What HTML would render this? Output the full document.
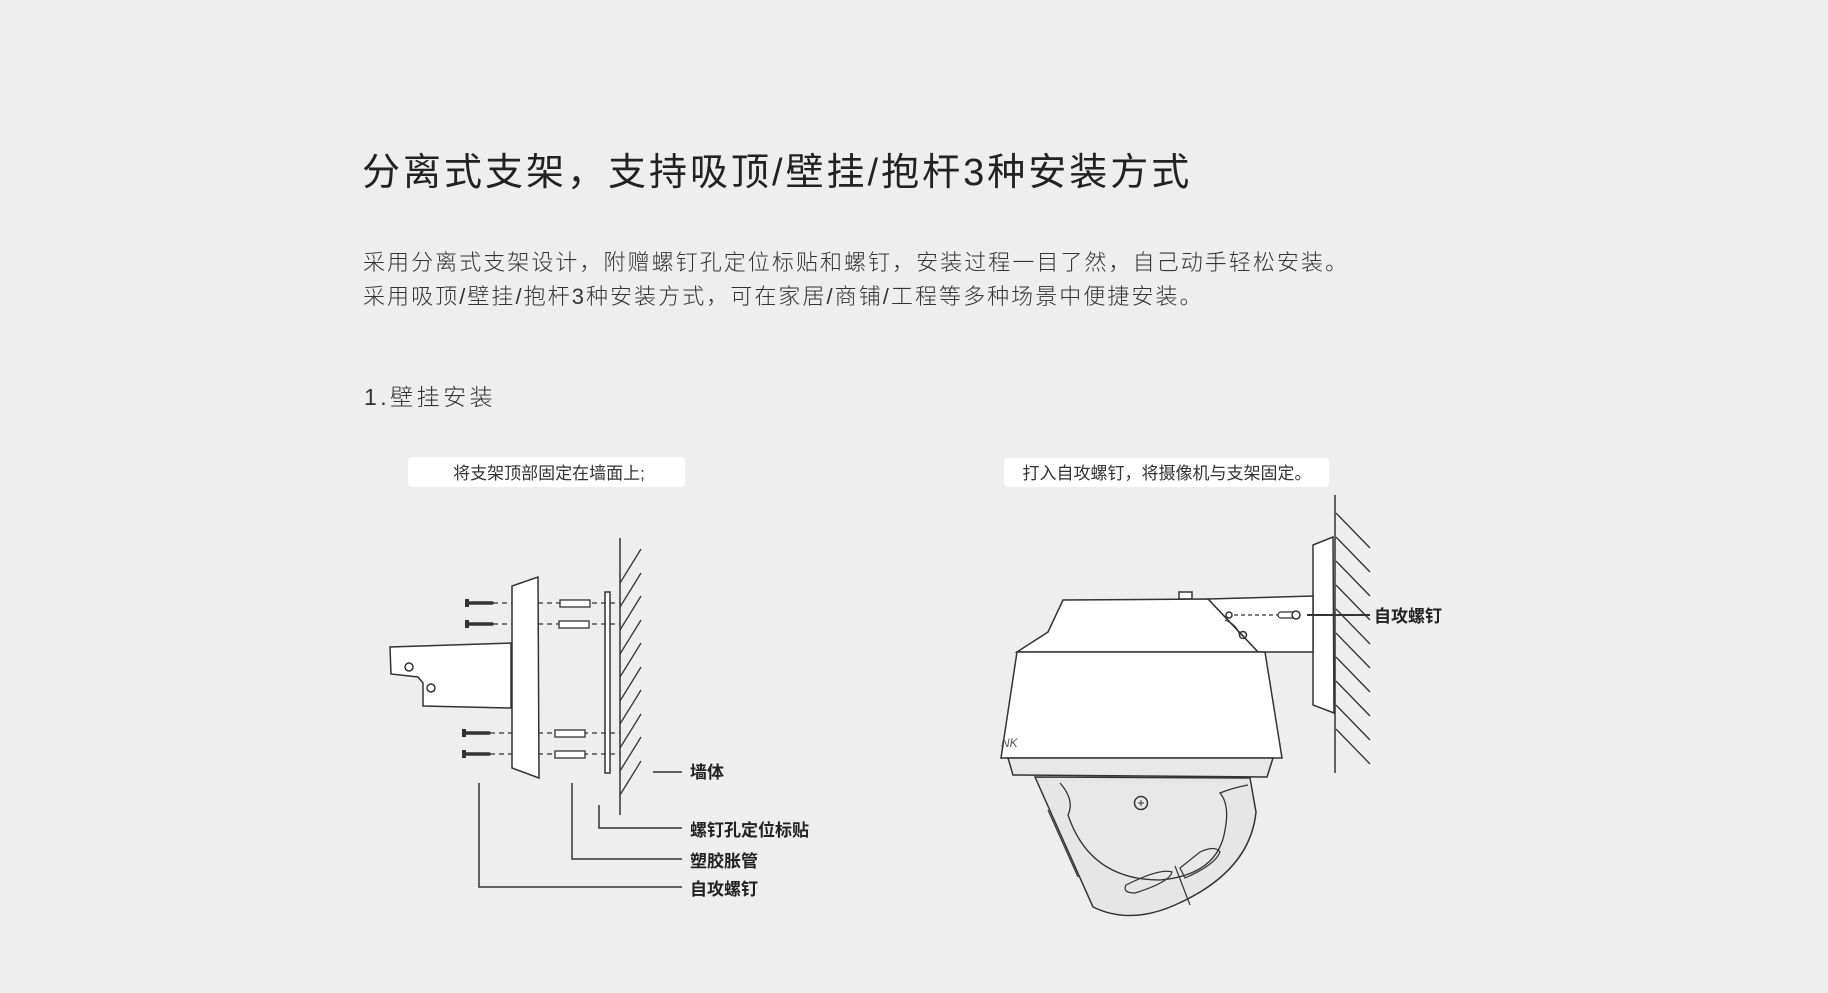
<!DOCTYPE html>
<html><head><meta charset="utf-8"><style>
html,body{margin:0;padding:0;}
body{width:1828px;height:993px;background:#eeeeee;position:relative;overflow:hidden;font-family:"Liberation Sans","Noto Sans CJK SC",sans-serif;}
.t{position:absolute;white-space:nowrap;line-height:1;}
</style></head><body>
<div class="t" style="left:362px;top:154px;font-size:38px;color:#222;letter-spacing:3px;">分离式支架，支持吸顶/壁挂/抱杆3种安装方式</div>
<div class="t" style="left:363px;top:252px;font-size:22px;color:#333;letter-spacing:2.05px;font-weight:300;">采用分离式支架设计，附赠螺钉孔定位标贴和螺钉，安装过程一目了然，自己动手轻松安装。</div>
<div class="t" style="left:363px;top:286px;font-size:22px;color:#333;letter-spacing:2.05px;font-weight:300;">采用吸顶/壁挂/抱杆3种安装方式，可在家居/商铺/工程等多种场景中便捷安装。</div>
<div class="t" style="left:364px;top:386px;font-size:23px;color:#333;letter-spacing:3.5px;font-weight:300;">1.壁挂安装</div>

<svg width="1828" height="993" viewBox="0 0 1828 993" style="position:absolute;left:0;top:0" font-family="Liberation Sans, Noto Sans CJK SC, sans-serif">
<rect x="408" y="457" width="277" height="30" rx="4" fill="#fff"/>
<text x="549" y="479" font-size="17" fill="#333" text-anchor="middle">将支架顶部固定在墙面上;</text>
<rect x="1004" y="458" width="325" height="29" rx="4" fill="#fff"/>
<text x="1167" y="479" font-size="17" fill="#333" text-anchor="middle">打入自攻螺钉，将摄像机与支架固定。</text>

<!-- LEFT DIAGRAM -->
<g stroke="#333" stroke-width="1.5" fill="none">
<line x1="620" y1="538" x2="620" y2="815"/>
<g stroke-width="1.3">
<line x1="620" y1="583" x2="641" y2="549"/><line x1="620" y1="607" x2="641" y2="573"/>
<line x1="620" y1="630" x2="641" y2="596"/><line x1="620" y1="654" x2="641" y2="620"/>
<line x1="620" y1="677" x2="641" y2="643"/><line x1="620" y1="701" x2="641" y2="667"/>
<line x1="620" y1="724" x2="641" y2="690"/><line x1="620" y1="748" x2="641" y2="714"/>
<line x1="620" y1="771" x2="641" y2="737"/><line x1="620" y1="795" x2="641" y2="761"/>
</g>
<rect x="605" y="592" width="5" height="181" fill="#fff"/>
<path d="M390,647 L511,643 L511,708 L423,706 L423,683 L418,677 L391,674 Z" fill="#fff"/>
<circle cx="409" cy="667" r="4"/><circle cx="431" cy="688" r="4"/>
<path d="M512,586 L538,577 L539,778 L512,768 Z" fill="#fff"/>
<g stroke-dasharray="5,4" stroke-width="1.2">
<line x1="493" y1="603" x2="512" y2="603"/><line x1="538" y1="603" x2="620" y2="603"/>
<line x1="493" y1="624" x2="512" y2="624"/><line x1="538" y1="624" x2="620" y2="624"/>
<line x1="490" y1="733" x2="512" y2="733"/><line x1="538" y1="733" x2="620" y2="733"/>
<line x1="490" y1="754" x2="512" y2="754"/><line x1="538" y1="754" x2="620" y2="754"/>
</g>
<g fill="#fff" stroke-width="1.3">
<rect x="560" y="600" width="30" height="7"/><rect x="559" y="621" width="30" height="7"/>
<rect x="555" y="730" width="30" height="7"/><rect x="555" y="751" width="30" height="7"/>
</g>
<g stroke-width="3.5" stroke-linecap="round">
<line x1="468" y1="603" x2="492" y2="603"/><line x1="468" y1="624" x2="492" y2="624"/>
<line x1="465" y1="733" x2="489" y2="733"/><line x1="465" y1="754" x2="489" y2="754"/>
</g>
<g fill="#333" stroke="none">
<rect x="465" y="599" width="4" height="8"/><rect x="465" y="620" width="4" height="8"/>
<rect x="462" y="729" width="4" height="8"/><rect x="462" y="750" width="4" height="8"/>
</g>
<line x1="653" y1="772" x2="682" y2="772"/>
<polyline points="599,805 599,828 682,828"/>
<polyline points="572,783 572,859 682,859"/>
<polyline points="479,783 479,887 682,887"/>
</g>
<g font-size="17" fill="#222" font-weight="bold">
<text x="690" y="778">墙体</text>
<text x="690" y="836">螺钉孔定位标贴</text>
<text x="690" y="867">塑胶胀管</text>
<text x="690" y="895">自攻螺钉</text>
</g>

<!-- RIGHT DIAGRAM -->
<g stroke="#333" stroke-width="1.5" fill="none">
<line x1="1335" y1="495" x2="1335" y2="773"/>
<g stroke-width="1.3">
<line x1="1336" y1="513" x2="1370" y2="548"/><line x1="1336" y1="537" x2="1370" y2="572"/>
<line x1="1336" y1="561" x2="1370" y2="596"/><line x1="1336" y1="585" x2="1370" y2="620"/>
<line x1="1336" y1="609" x2="1370" y2="644"/><line x1="1336" y1="633" x2="1370" y2="668"/>
<line x1="1336" y1="657" x2="1370" y2="692"/><line x1="1336" y1="681" x2="1370" y2="716"/>
<line x1="1336" y1="705" x2="1370" y2="740"/><line x1="1336" y1="729" x2="1370" y2="764"/>
</g>
<path d="M1313,545 L1333,537 L1334,713 L1313,705 Z" fill="#fff"/>
<path d="M1208,599 L1313,596 L1313,652 L1258,652 Z" fill="#fff"/>
<rect x="1179" y="592" width="13" height="7" fill="#fff"/>
<path d="M1017,652 L1048,632 L1063,600 L1208,599 L1258,652 Z" fill="#fff"/>
<path d="M1225,620 Q1238,625 1240,637" stroke-width="1.2"/>
<circle cx="1243" cy="635" r="3.5"/>
<circle cx="1229" cy="615" r="3"/>
<line x1="1234" y1="615" x2="1278" y2="615" stroke-dasharray="4,3" stroke-width="1.2"/>
<rect x="1278" y="612" width="18" height="6" rx="3" fill="#fff" stroke-width="1.2"/>
<circle cx="1296" cy="615" r="4" fill="#fff"/>
<line x1="1307" y1="615" x2="1370" y2="615" stroke-width="2"/>
<path d="M1017,652 L1265,652 L1282,758 L1001,758 Z" fill="#fff"/>
<path d="M1008,758 L1273,758 L1267,777 L1013,775 Z" fill="#e8e8e8"/>
<path d="M1035,777 L1093,907 Q1130,925 1175,905 Q1250,872 1256,812 L1250,778 Z" fill="#e6e6e6"/>
<path d="M1060,783 Q1075,800 1068,815 Q1090,880 1160,880 Q1218,875 1225,830 Q1230,805 1220,793 Q1232,788 1248,785" fill="#e8e8e8" stroke-width="1.3"/>
<path d="M1048,810 L1078,877" stroke-width="1.2"/>
<circle cx="1141" cy="803" r="6.5"/>
<path d="M1138,803 h6 M1141,800 v6" stroke-width="1"/>
<path d="M1126,885 Q1160,868 1172,872 Q1170,882 1135,893 Q1122,893 1126,885 Z" stroke-width="1.2"/>
<path d="M1180,868 L1200,852 Q1215,845 1220,852 Q1215,865 1185,878 Z" stroke-width="1.2"/>
<line x1="1175" y1="866" x2="1190" y2="905" stroke-width="1.2"/>
</g>
<text x="1001" y="747" font-size="12" fill="#555" font-style="italic">NK</text>
<text x="1374" y="622" font-size="17" fill="#222" font-weight="bold">自攻螺钉</text>
</svg>
</body></html>
